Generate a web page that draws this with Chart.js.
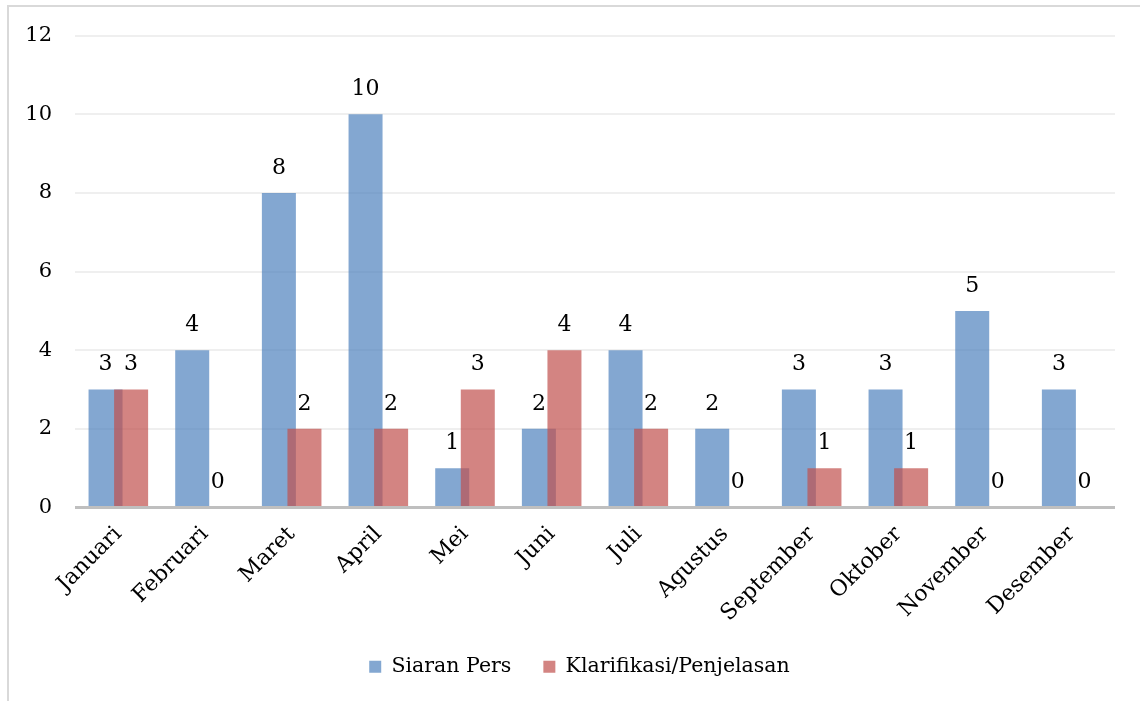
<!DOCTYPE html>
<html>
<head>
<meta charset="utf-8">
<script src="https://cdn.jsdelivr.net/npm/chart.js@4.4.0/dist/chart.umd.min.js"></script>
<style>
  html, body { margin: 0; padding: 0; background: #fff; }
  #wrap { position: relative; width: 1140px; height: 701px; overflow: hidden; }
  #frame { position: absolute; left: 7px; top: 5px; width: 1200px; height: 800px;
           border-top: 2px solid #D9D9D9; border-left: 2px solid #D9D9D9; }
  #myChart { position: absolute; left: 0; top: 0; }
</style>
</head>
<body>
<div id="wrap">
  <div id="frame"></div>
  <canvas id="myChart" width="1140" height="701"></canvas>
</div>
<script>
const bulan = ['Januari', 'Februari', 'Maret', 'April', 'Mei', 'Juni', 'Juli',
  'Agustus', 'September', 'Oktober', 'November', 'Desember'];
const siaranPers = [3, 4, 8, 10, 1, 2, 4, 2, 3, 3, 5, 3];
const klarifikasi = [3, 0, 2, 2, 3, 4, 2, 0, 1, 1, 0, 0];
const yTicks = [0, 2, 4, 6, 8, 10, 12];

const fontFam = '"DejaVu Serif", serif';

// Chart.js menggambar dataset terakhir lebih dulu; di sini biru digambar
// duluan supaya batang merah menumpuk di atasnya
const urutanGambar = {
  id: 'urutanGambar',
  beforeDatasetDraw(chart, args) {
    if (args.index === 0) return false;
    if (args.index === 1) chart.getDatasetMeta(0).controller.draw();
  }
};

// geser legenda sedikit ke kanan
const geserLegenda = {
  id: 'geserLegenda',
  afterLayout(chart) {
    chart.legend.left += 22;
    chart.legend.right += 22;
  }
};

// angka di atas tiap batang
const labelAtas = {
  id: 'labelAtas',
  afterDatasetsDraw(chart) {
    const ctx = chart.ctx;
    ctx.save();
    ctx.font = '22px ' + fontFam;
    ctx.fillStyle = '#000';
    ctx.textAlign = 'center';
    ctx.textBaseline = 'middle';
    chart.data.datasets.forEach((ds, i) => {
      chart.getDatasetMeta(i).data.forEach((bar, j) => {
        ctx.fillText(ds.data[j], bar.x, bar.y - 25);
      });
    });
    ctx.restore();
  }
};

const ctx = document.getElementById('myChart').getContext('2d');
const myChart = new Chart(ctx, {
  type: 'bar',
  data: {
    labels: bulan,
    datasets: [{
      label: 'Siaran Pers',
      data: siaranPers,
      backgroundColor: 'rgba(79, 129, 189, 0.7)',
      categoryPercentage: 0.59,
      barPercentage: 1.33
    }, {
      label: 'Klarifikasi/Penjelasan',
      data: klarifikasi,
      backgroundColor: 'rgba(192, 80, 77, 0.7)',
      categoryPercentage: 0.59,
      barPercentage: 1.33
    }]
  },
  options: {
    responsive: false,
    animation: false,
    layout: { padding: { top: 24, right: 25, bottom: 14, left: 0 } },
    plugins: {
      tooltip: { enabled: false },
      legend: {
        position: 'bottom',
        labels: {
          font: { family: fontFam, size: 20.5 },
          color: '#000',
          boxWidth: 12,
          boxHeight: 12,
          padding: 32
        }
      }
    },
    scales: {
      x: {
        grid: { display: false, drawTicks: false },
        border: { display: false },
        ticks: {
          font: { family: fontFam, size: 22 },
          color: '#000',
          maxRotation: 45,
          minRotation: 45,
          padding: 14
        },
        afterFit(scale) { scale.height = 117; }
      },
      y: {
        min: 0,
        max: 12,
        afterBuildTicks(scale) { scale.ticks = yTicks.map(v => ({ value: v })); },
        grid: {
          drawTicks: false,
          color: c => c.tick.value === 0 ? '#BFBFBF' : '#EFEFEF',
          lineWidth: c => c.tick.value === 0 ? 3 : 2
        },
        border: { display: false },
        ticks: {
          font: { family: fontFam, size: 21 },
          color: '#000',
          padding: 23
        },
        afterFit(scale) { scale.width = 75; }
      }
    }
  },
  plugins: [urutanGambar, geserLegenda, labelAtas]
});
</script>
</body>
</html>
